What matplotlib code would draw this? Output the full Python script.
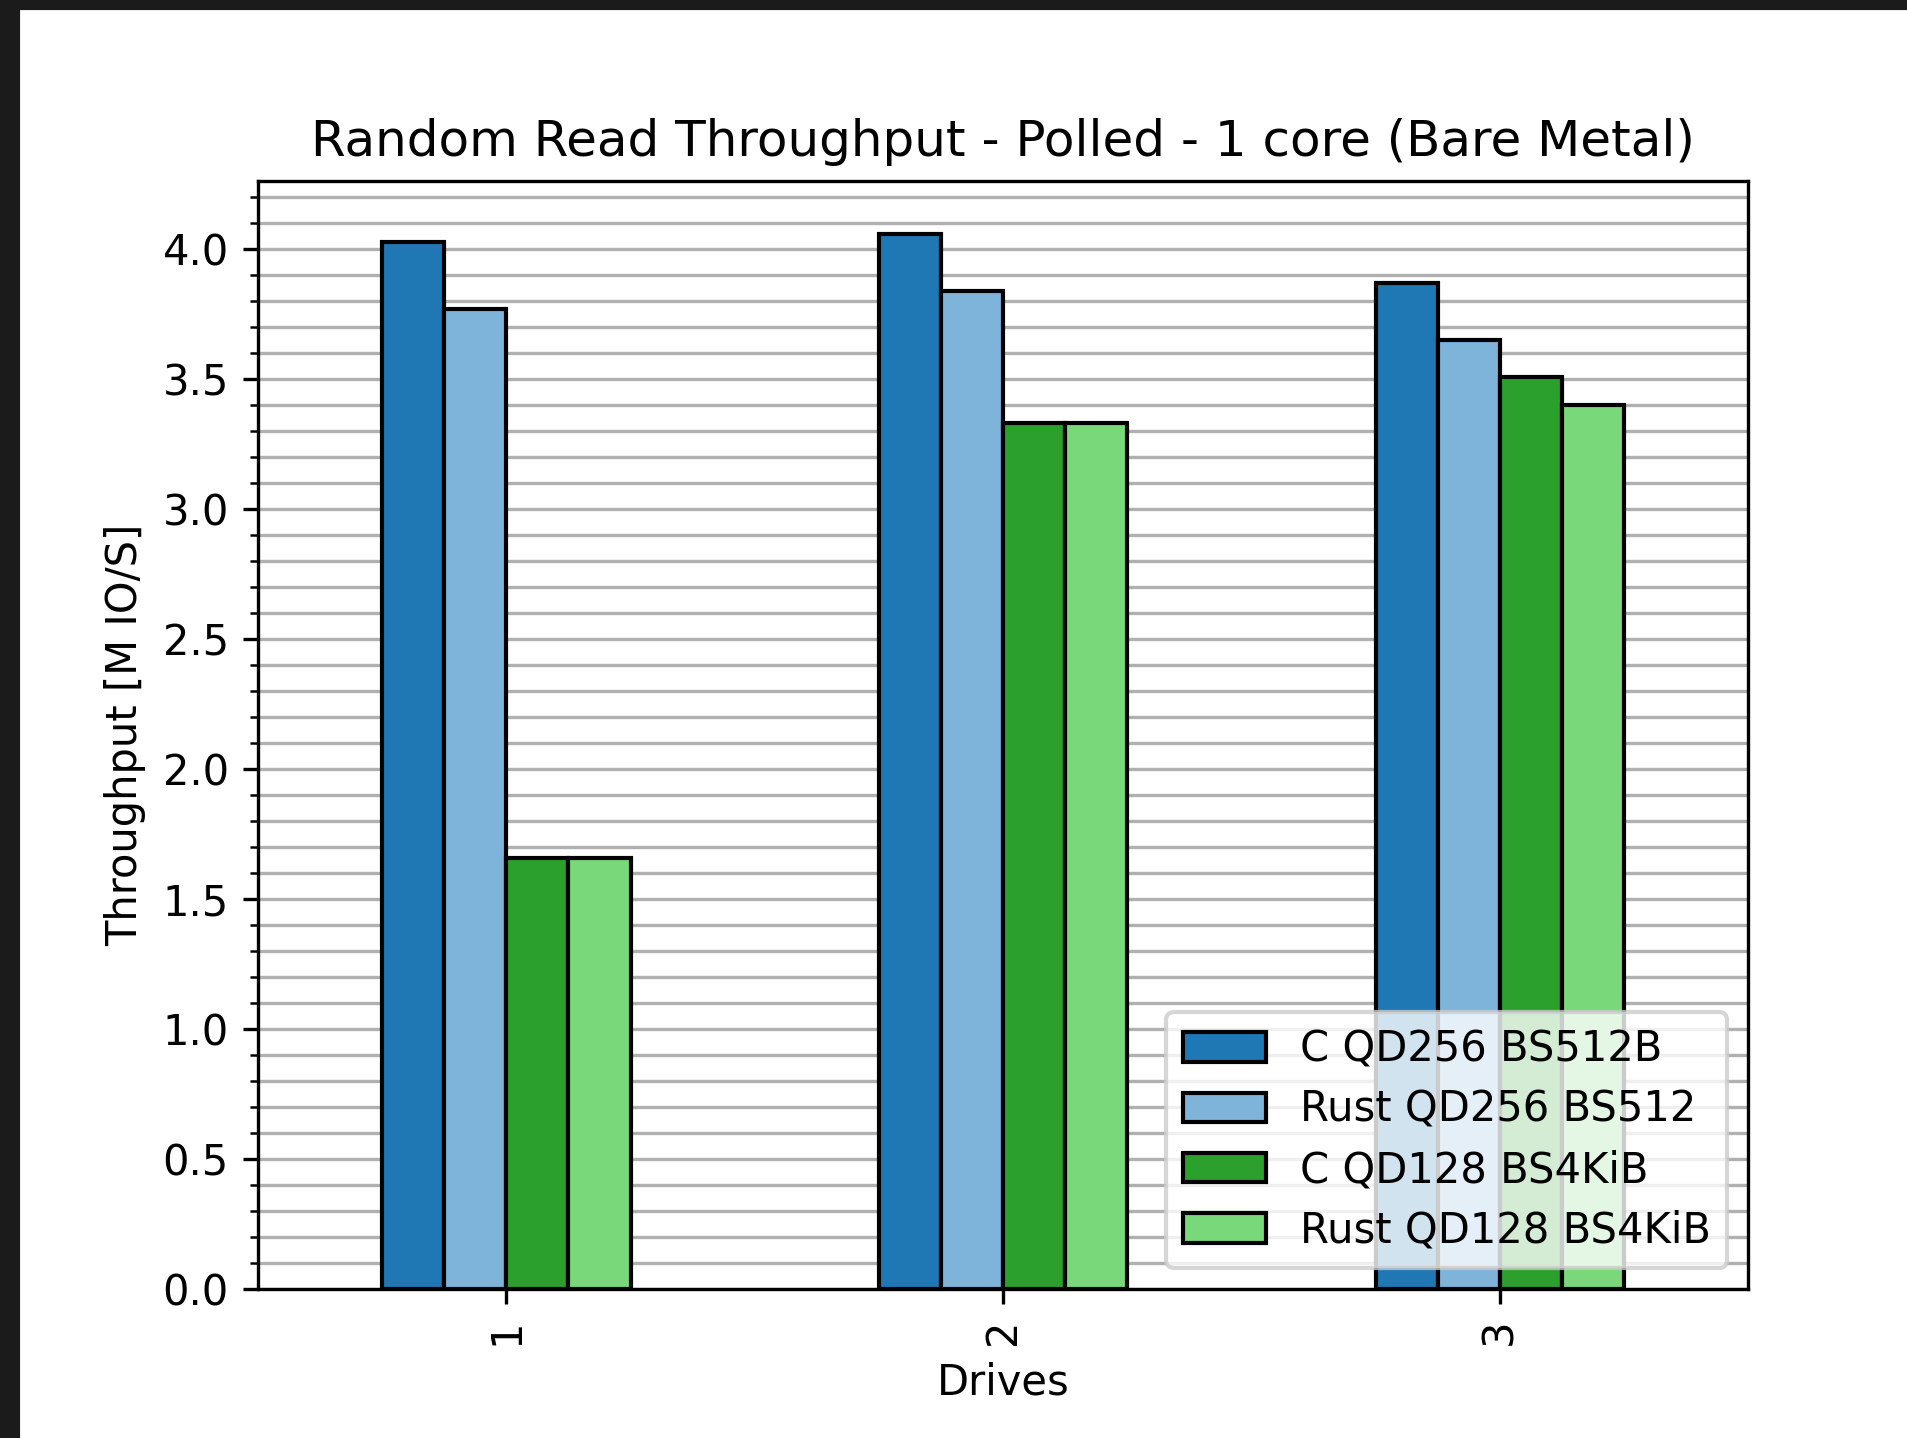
"""Random read throughput, polled, 1 core (bare metal): grouped bars per drive count."""

import matplotlib

matplotlib.use("Agg")
import matplotlib.pyplot as plt
import numpy as np
from matplotlib.patches import Rectangle
from matplotlib.ticker import AutoMinorLocator

drives = ["1", "2", "3"]
series_labels = ["C QD256 BS512B", "Rust QD256 BS512", "C QD128 BS4KiB", "Rust QD128 BS4KiB"]
c_qd256 = [4.03, 4.06, 3.87]
rust_qd256 = [3.77, 3.84, 3.65]
c_qd128 = [1.66, 3.33, 3.51]
rust_qd128 = [1.66, 3.33, 3.40]
series_colors = ["#1f77b4", "#7fb4da", "#2ca02c", "#78d87a"]

W, H, DPI = 1907, 1438, 300
fig = plt.figure(figsize=(W / DPI, H / DPI), dpi=DPI)

# screenshot frame (dark strips on top and left)
fig.patches.append(Rectangle((0, 1 - 8 / H), 1, 8 / H, transform=fig.transFigure,
                             color="#1b1b1b", zorder=10))
fig.patches.append(Rectangle((0, 0), 18 / W, 1, transform=fig.transFigure,
                             color="#1b1b1b", zorder=10))

ax = fig.add_axes([258 / W, 1 - 1289 / H, (1748 - 258) / W, (1289 - 181) / H])

series = [c_qd256, rust_qd256, c_qd128, rust_qd128]
x = np.arange(len(drives))
width = 0.5 / len(series)
for i, (vals, label, color) in enumerate(zip(series, series_labels, series_colors)):
    offset = (i - (len(series) - 1) / 2) * width
    ax.bar(x + offset, vals, width, label=label, color=color,
           edgecolor="black", linewidth=1.0, zorder=3)

ax.set_xlim(-0.5, len(drives) - 0.5)
ax.set_xticks(x)
ax.set_xticklabels(drives, rotation=90)
ax.yaxis.set_minor_locator(AutoMinorLocator(5))
ax.grid(axis="y", which="both", color="#b0b0b0", linewidth=0.8, zorder=0)
ax.set_axisbelow(True)

ax.set_title("Random Read Throughput - Polled - 1 core (Bare Metal)")
ax.set_xlabel("Drives")
ax.set_ylabel("Throughput [M IO/S]")
ax.legend(loc="lower right", labelspacing=0.44)

fig.savefig("out.png", dpi=DPI)
